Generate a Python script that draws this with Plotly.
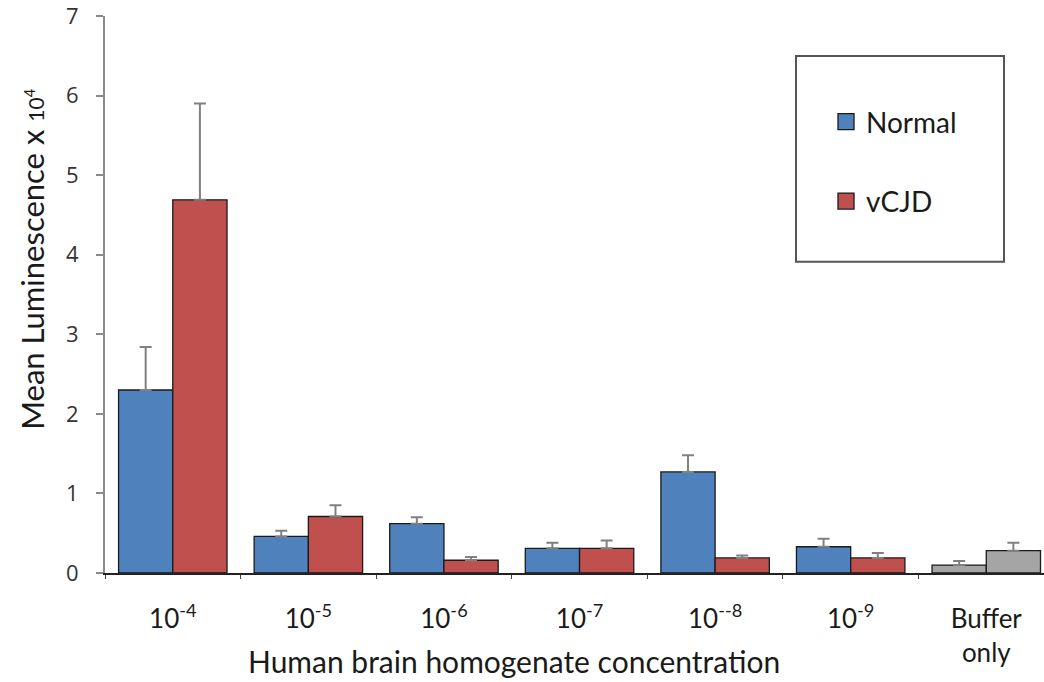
import plotly.graph_objects as go

categories = ["10<sup>-4</sup>", "10<sup>-5</sup>", "10<sup>-6</sup>", "10<sup>-7</sup>",
              "10<sup>--8</sup>", "10<sup>-9</sup>", "Buffer<br>only"]
normal_vals = [2.30, 0.46, 0.62, 0.31, 1.27, 0.33, 0.10]
normal_err = [0.54, 0.07, 0.08, 0.07, 0.21, 0.10, 0.05]
vcjd_vals = [4.69, 0.71, 0.16, 0.31, 0.19, 0.19, 0.28]
vcjd_err = [1.21, 0.14, 0.04, 0.10, 0.03, 0.06, 0.10]
y_ticks = [0, 1, 2, 3, 4, 5, 6, 7]

BLUE = "#4F81BD"
RED = "#C0504D"
GRAY = "#A5A5A5"
normal_colors = [BLUE] * 6 + [GRAY]
vcjd_colors = [RED] * 6 + [GRAY]

W, H = 1044, 682
L, R, T, B = 105, 0, 16, 108.5
pw, ph = W - L - R, H - T - B

def px(x):
    return (x - L) / pw

def py(y):
    return (H - B - y) / ph

fig = go.Figure()
for name, vals, errs, cols in [("Normal", normal_vals, normal_err, normal_colors),
                               ("vCJD", vcjd_vals, vcjd_err, vcjd_colors)]:
    fig.add_trace(go.Bar(
        x=categories, y=vals, name=name, showlegend=False,
        marker=dict(color=cols, line=dict(color="#1a1a1a", width=1.3)),
        error_y=dict(type="data", symmetric=False, array=errs,
                     arrayminus=[0] * len(errs), color="#808080",
                     thickness=2, width=6),
    ))

# legend entries
for name, col in [("Normal", BLUE), ("vCJD", RED)]:
    fig.add_trace(go.Scatter(
        x=[None], y=[None], mode="markers", name=name, legendgroup=name,
        marker=dict(symbol="square", size=16, color=col,
                    line=dict(color="#1a1a1a", width=1.3)),
    ))

fig.update_layout(
    width=W, height=H,
    margin=dict(l=L, r=R, t=T, b=B, pad=0),
    paper_bgcolor="white", plot_bgcolor="white",
    barmode="group", bargap=0.2, bargroupgap=0,
    showlegend=True,
    legend=dict(x=px(826), y=py(97), xanchor="left", yanchor="top",
                bgcolor="rgba(0,0,0,0)", borderwidth=0,
                font=dict(family="Lato", size=28, color="#1a1a1a"),
                tracegroupgap=40, itemwidth=30),
    font=dict(family="Lato", color="#1a1a1a"),
)
fig.update_xaxes(
    range=[-0.5, 6.5 - 10 / 134.8],
    showline=True, linecolor="#222222", linewidth=1.5,
    ticks="outside", tickson="boundaries", ticklen=4, tickcolor="#444444",
    tickfont=dict(family="Lato", size=26, color="#1a1a1a"),
    ticklabelstandoff=22,
    showgrid=False, zeroline=False,
)
fig.update_yaxes(
    range=[0, 7], tickvals=y_ticks,
    showline=True, linecolor="#8a8a8a", linewidth=2,
    ticks="outside", ticklen=7, tickcolor="#8a8a8a", tickwidth=2,
    tickfont=dict(family="Open Sans", size=22, color="#333333"),
    ticklabelstandoff=13, ticklabeloverflow="allow",
    showgrid=False, zeroline=False,
)

fig.add_annotation(
    xref="paper", yref="paper", x=px(514), y=py(662),
    text="Human brain homogenate concentration", showarrow=False,
    font=dict(family="Lato", size=30, color="#1a1a1a"),
    xanchor="center", yanchor="middle",
)
fig.add_annotation(
    xref="paper", yref="paper", x=px(32), y=py(260),
    text="Mean Luminescence x <span style='font-size:21px'>10<sup>4</sup></span>",
    textangle=-90, showarrow=False,
    font=dict(family="Lato", size=31, color="#1a1a1a"),
    xanchor="center", yanchor="middle",
)
fig.add_shape(
    type="rect", xref="paper", yref="paper",
    x0=px(796), x1=px(1004), y0=py(262), y1=py(56),
    line=dict(color="#555555", width=2), fillcolor="rgba(0,0,0,0)",
)

fig.write_html("out.html")
